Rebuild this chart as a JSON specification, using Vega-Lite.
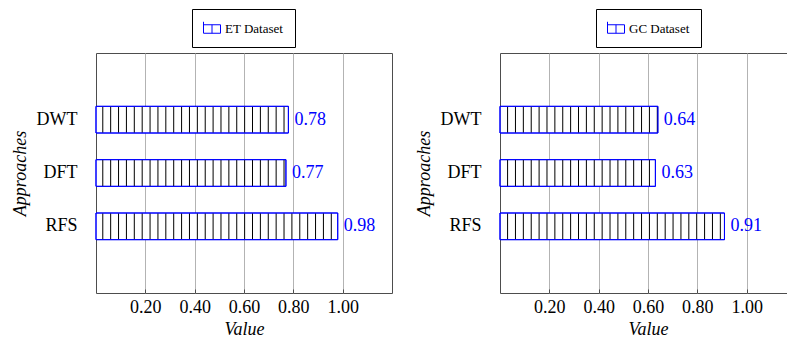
{
"$schema": "https://vega.github.io/schema/vega-lite/v6.json",
"padding": {"left": 10, "top": 8, "right": 0, "bottom": 0},
"background": "white",
"data": {"values": [
{"dataset": "ET Dataset", "approach": "DWT", "value": 0.78},
{"dataset": "ET Dataset", "approach": "DFT", "value": 0.77},
{"dataset": "ET Dataset", "approach": "RFS", "value": 0.98},
{"dataset": "GC Dataset", "approach": "DWT", "value": 0.64},
{"dataset": "GC Dataset", "approach": "DFT", "value": 0.63},
{"dataset": "GC Dataset", "approach": "RFS", "value": 0.91}
]},
"spacing": 21,
"resolve": {"scale": {"stroke": "independent"}, "legend": {"stroke": "independent"}},
"hconcat": [
{
"width": 296, "height": 240,
"transform": [{"filter": "datum.dataset === 'ET Dataset'"}],
"encoding": {
"y": {"field": "approach", "type": "nominal", "sort": ["DWT", "DFT", "RFS"], "scale": {"paddingInner": 0.5, "paddingOuter": 1.04}, "title": "Approaches"},
"x": {"field": "value", "type": "quantitative", "scale": {"domain": [0, 1.2], "nice": false, "zero": true}, "title": "Value", "axis": {"values": [0.2, 0.4, 0.6, 0.8, 1.0], "format": ".2f"}}
},
"layer": [
{"mark": {"type": "bar", "strokeWidth": 1, "fill": "white"},
"encoding": {
"stroke": {"field": "dataset", "type": "nominal", "scale": {"range": ["#0000ff"]},
"legend": {"orient": "none", "legendX": 96, "legendY": -44, "title": null, "strokeColor": "black", "padding": 11, "symbolType": "M-1,-0.85V0.5H1V-0.5H-1M0,-0.5V0.5", "symbolSize": 289, "symbolFillColor": "white", "symbolStrokeWidth": 1, "labelFont": "Times New Roman", "labelFontSize": 13, "labelColor": "black", "cornerRadius": 0}}
}},
{"mark": {"type": "rule", "color": "#000", "strokeWidth": 26, "strokeDash": [1, 6.88], "strokeDashOffset": 1.6, "strokeCap": "butt"},
"encoding": {"x": {"datum": 0}, "x2": {"field": "value"}}},
{"mark": {"type": "bar", "strokeWidth": 1, "fill": null, "fillOpacity": 0, "stroke": "#0000ff"}},
{"mark": {"type": "text", "align": "left", "dx": 6, "color": "#0000ff", "font": "Times New Roman", "fontSize": 18},
"encoding": {"text": {"field": "value", "type": "quantitative", "format": ".2f"}}}
]
},
{
"width": 296, "height": 240,
"transform": [{"filter": "datum.dataset === 'GC Dataset'"}],
"encoding": {
"y": {"field": "approach", "type": "nominal", "sort": ["DWT", "DFT", "RFS"], "scale": {"paddingInner": 0.5, "paddingOuter": 1.04}, "title": "Approaches"},
"x": {"field": "value", "type": "quantitative", "scale": {"domain": [0, 1.2], "nice": false, "zero": true}, "title": "Value", "axis": {"values": [0.2, 0.4, 0.6, 0.8, 1.0], "format": ".2f"}}
},
"layer": [
{"mark": {"type": "bar", "strokeWidth": 1, "fill": "white"},
"encoding": {
"stroke": {"field": "dataset", "type": "nominal", "scale": {"range": ["#0000ff"]},
"legend": {"orient": "none", "legendX": 96, "legendY": -44, "title": null, "strokeColor": "black", "padding": 11, "symbolType": "M-1,-0.85V0.5H1V-0.5H-1M0,-0.5V0.5", "symbolSize": 289, "symbolFillColor": "white", "symbolStrokeWidth": 1, "labelFont": "Times New Roman", "labelFontSize": 13, "labelColor": "black", "cornerRadius": 0}}
}},
{"mark": {"type": "rule", "color": "#000", "strokeWidth": 26, "strokeDash": [1, 6.88], "strokeDashOffset": 0.8, "strokeCap": "butt"},
"encoding": {"x": {"datum": 0}, "x2": {"field": "value"}}},
{"mark": {"type": "bar", "strokeWidth": 1, "fill": null, "fillOpacity": 0, "stroke": "#0000ff"}},
{"mark": {"type": "text", "align": "left", "dx": 6, "color": "#0000ff", "font": "Times New Roman", "fontSize": 18},
"encoding": {"text": {"field": "value", "type": "quantitative", "format": ".2f"}}}
]
}
],
"config": {
"font": "Times New Roman",
"view": {"stroke": "#4d4d4d", "strokeWidth": 1},
"axisX": {"grid": true, "gridColor": "#b3b3b3", "labelFont": "Times New Roman", "labelFontSize": 18, "labelColor": "#000", "ticks": true, "tickSize": -4, "tickColor": "#4d4d4d", "domain": false, "labelPadding": 9, "titleFont": "Times New Roman", "titleFontSize": 18, "titleFontStyle": "italic", "titleFontWeight": "normal", "titleColor": "#000", "titlePadding": 4},
"axisY": {"grid": false, "ticks": false, "tickSize": 0, "domain": false, "labelFont": "Times New Roman", "labelFontSize": 18, "labelColor": "#000", "labelPadding": 19, "titleFont": "Times New Roman", "titleFontSize": 18, "titleFontStyle": "italic", "titleFontWeight": "normal", "titleColor": "#000", "titlePadding": 7}
}
}
